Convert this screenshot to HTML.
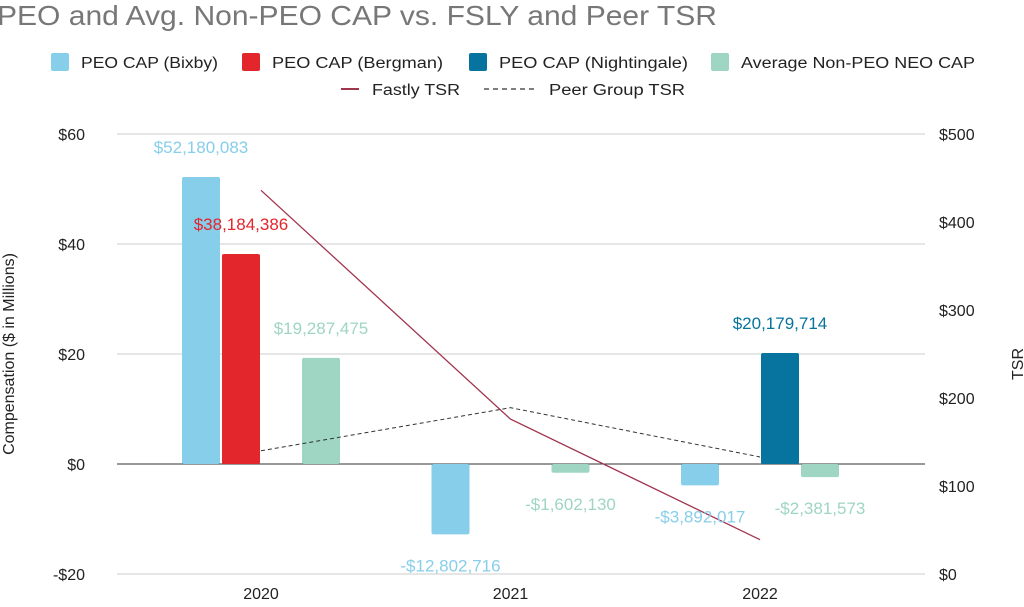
<!DOCTYPE html><html><head><meta charset="utf-8"><style>
body{margin:0;background:#fff;width:1024px;height:602px;overflow:hidden;font-family:"Liberation Sans",sans-serif}
</style></head><body>
<svg id="c" width="1024" height="602" xmlns="http://www.w3.org/2000/svg" font-family="Liberation Sans, sans-serif">
<text x="-3" y="25" font-size="28" fill="#777" textLength="720" lengthAdjust="spacingAndGlyphs">PEO and Avg. Non-PEO CAP vs. FSLY and Peer TSR</text>
<g id="legend" font-size="15.5" fill="#222">
<g><rect x="51" y="53" width="18" height="18" rx="2" fill="#87CEEB"/><text x="81" y="68" textLength="137" lengthAdjust="spacingAndGlyphs">PEO CAP (Bixby)</text></g>
<g><rect x="242" y="53" width="18" height="18" rx="2" fill="#E3252C"/><text x="272" y="68" textLength="171" lengthAdjust="spacingAndGlyphs">PEO CAP (Bergman)</text></g>
<g><rect x="469" y="53" width="18" height="18" rx="2" fill="#07739F"/><text x="499" y="68" textLength="189" lengthAdjust="spacingAndGlyphs">PEO CAP (Nightingale)</text></g>
<g><rect x="711" y="53" width="18" height="18" rx="2" fill="#9ED5C3"/><text x="741" y="68" textLength="234" lengthAdjust="spacingAndGlyphs">Average Non-PEO NEO CAP</text></g>
<g><line x1="341" y1="89" x2="359" y2="89" stroke="#A0354E" stroke-width="2"/><text x="372" y="95" textLength="88" lengthAdjust="spacingAndGlyphs">Fastly TSR</text></g>
<g><line x1="484" y1="89" x2="537" y2="89" stroke="#333" stroke-width="1.3" stroke-dasharray="5,4"/><text x="549" y="95" textLength="136" lengthAdjust="spacingAndGlyphs">Peer Group TSR</text></g>
</g>
<g id="grid"></g><g id="bars"></g><g id="lines"></g><g id="labels"></g><g id="axes"></g>
<text transform="translate(14,354) rotate(-90)" text-anchor="middle" font-size="16" fill="#222">Compensation ($ in Millions)</text>
<text transform="translate(1023,364) rotate(-90)" text-anchor="middle" font-size="16" fill="#222">TSR</text>
</svg>
<script>
const categories=["2020","2021","2022"];
const seriesNames=["PEO CAP (Bixby)","PEO CAP (Bergman)","PEO CAP (Nightingale)","Average Non-PEO NEO CAP"];
const bixby=[52180083,-12802716,-3892017];
const bergman=[38184386,null,null];
const nightingale=[null,null,20179714];
const nonPeo=[19287475,-1602130,-2381573];
const fastlyTSR=[436,176,39];
const peerTSR=[140,189,133];
const leftTicks=[-20,0,20,40,60];
const rightTicks=[0,100,200,300,400,500];
const colors=["#87CEEB","#E3252C","#07739F","#9ED5C3"];
const labelColors=["#87CEEB","#E3252C","#07739F","#9ED5C3"];
const NS="http://www.w3.org/2000/svg";
const X0=117,X1=925,T=134,B=574;
const yL=v=>B-(v-(-20))/80*(B-T);
const yR=v=>B-v/500*(B-T);
const cx=i=>261+i*249.5;
function mk(t,a,p){const e=document.createElementNS(NS,t);for(const k in a)e.setAttribute(k,a[k]);document.getElementById(p).appendChild(e);return e;}
leftTicks.forEach(t=>{const l=mk('line',{x1:X0,x2:X1,y1:yL(t),y2:yL(t),stroke:t===0?'#333':'#ccc','stroke-width':1},'grid');


const tx=mk('text',{x:85,y:yL(t)+6,'text-anchor':'end','font-size':16,fill:'#222'},'axes');tx.textContent=(t<0?'-$':'$')+Math.abs(t);

});
rightTicks.forEach(t=>{const tx=mk('text',{x:939,y:yR(t)+6,'font-size':16,fill:'#222'},'axes');tx.textContent='$'+t;

});
categories.forEach((c,i)=>{const tx=mk('text',{x:cx(i),y:599,'text-anchor':'middle','font-size':16,fill:'#222'},'axes');tx.textContent=c;

});
const fmt=v=>(v<0?'-$':'$')+Math.abs(v).toLocaleString('en-US');
[bixby,bergman,nightingale,nonPeo].forEach((s,si)=>{s.forEach((v,i)=>{if(v==null)return;
const x=cx(i)-79+si*40,y0=yL(0),y1=yL(v/1e6);
const r=mk('rect',{x:x,y:Math.min(y0,y1),width:38,height:Math.abs(y1-y0),rx:2,fill:colors[si]},'bars');


const ly=v>=0?y1-24:y1+37;
const t=mk('text',{x:x+19,y:ly,'text-anchor':'middle','font-size':17,fill:labelColors[si]},'labels');t.textContent=fmt(v);

});});
const pf=mk('polyline',{points:fastlyTSR.map((v,i)=>cx(i)+','+yR(v)).join(' '),fill:'none',stroke:'#A0354E','stroke-width':1.3},'lines');


const pp=mk('polyline',{points:peerTSR.map((v,i)=>cx(i)+','+yR(v)).join(' '),fill:'none',stroke:'#333','stroke-width':1,'stroke-dasharray':'4,3'},'lines');


</script>
</body></html>
